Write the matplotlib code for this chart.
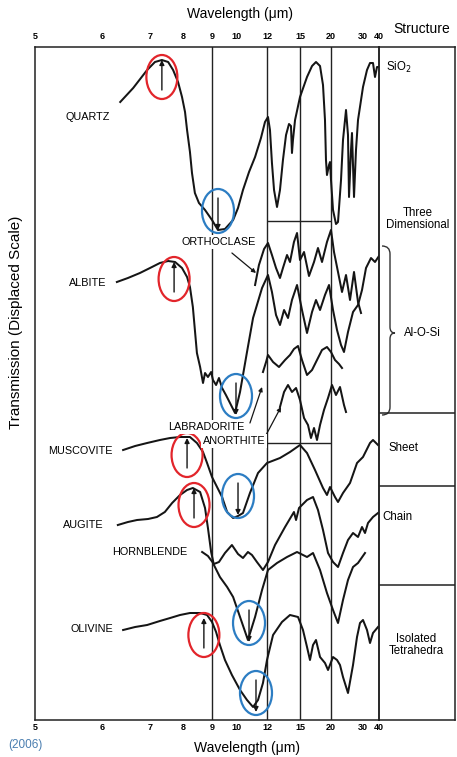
import numpy as np
import matplotlib
matplotlib.use('Agg')
import matplotlib.pyplot as plt
from matplotlib.patches import Ellipse, PathPatch
from matplotlib.path import Path
from matplotlib.transforms import ScaledTranslation

plt.rcParams['font.family'] = ['Liberation Sans', 'DejaVu Sans']

W, H = 457, 757

# wavelength axis (um); the printed axis is not uniform, so keep its tick spacing
tick_wl = [5, 6, 7, 8, 9, 10, 12, 15, 20, 30, 40]
tick_pos = [0, 67, 115, 148, 177, 201, 232, 265, 296, 328, 344]
minor_wl = [6, 7, 8, 10, 30]
grid_wl = [9, 12, 15, 20]

# spectra: wavelength (um) and displaced transmission (arbitrary units)
quartz_wl = [6.38, 6.65, 6.94, 7.15, 7.36, 7.55, 7.70, 7.85, 7.97, 8.07, 8.14, 8.24, 8.31, 8.41, 8.55, 8.76,
             9.0, 9.25, 9.54, 9.88, 10.13, 10.45, 10.84, 11.23, 11.61, 11.87, 12.09, 12.27, 12.45, 12.64,
             12.91, 13.18, 13.45, 13.73, 14.0, 14.18, 14.27, 14.36, 14.55, 15.0, 16.13, 16.94, 17.58, 18.23,
             18.71, 19.03, 19.19, 19.35, 19.68, 19.84, 20.0, 20.63, 21.56, 22.19, 23.13, 23.75, 24.69, 25.31,
             25.63, 26.25, 26.56, 27.19, 27.81, 28.44, 30.0, 32.5, 34.38, 36.25, 37.5, 38.75, 40.0]
quartz_t = [618, 632, 650, 658, 660, 658, 650, 638, 623, 608, 590, 568, 547, 527, 517, 510,
            500, 490, 491, 500, 512, 530, 548, 563, 582, 598, 603, 590, 557, 530,
            513, 530, 560, 585, 596, 594, 567, 580, 600, 623, 643, 654, 658, 654,
            635, 600, 560, 545, 555, 558, 540, 510, 496, 498, 540, 580, 610, 585,
            523, 570, 587, 523, 570, 600, 633, 650, 657, 657, 643, 653, 653]

orthoclase_wl = [11.23, 11.48, 11.81, 12.09, 12.45, 12.82, 13.18, 13.45, 13.82, 14.09, 14.45, 14.73, 15.0,
                 15.65, 16.45, 17.26, 17.9, 18.55, 19.35, 20.0, 20.94, 22.19, 23.44, 24.69, 25.94, 27.19,
                 28.44, 29.38]
orthoclase_t = [435, 455, 471, 477, 465, 452, 442, 452, 465, 458, 478, 487, 460,
                468, 444, 458, 472, 458, 478, 490, 468, 448, 428, 445, 420, 448,
                418, 407]

albite_wl = [6.31, 6.54, 6.79, 7.0, 7.30, 7.55, 7.76, 7.97, 8.14, 8.24, 8.34, 8.41, 8.48, 8.59, 8.69, 8.76,
             8.86, 8.97, 9.04, 9.17, 9.29, 9.42, 9.58, 9.75, 9.96, 10.26, 10.71, 11.10, 11.68, 12.09, 12.45,
             12.82, 13.18, 13.55, 13.91, 14.27, 14.73, 15.32, 16.13, 16.94, 17.58, 18.23, 19.03, 19.68,
             20.63, 21.88, 23.13, 24.06, 25.31, 26.88, 28.44, 29.69, 31.88, 35.0, 37.5, 40.0]
albite_t = [438, 442, 447, 452, 457, 459, 458, 452, 443, 433, 413, 390, 367, 353, 337, 347,
            343, 348, 340, 335, 342, 332, 325, 317, 307, 328, 368, 402, 432, 445, 428,
            405, 395, 410, 402, 420, 435, 410, 387, 408, 420, 410, 425, 435,
            410, 390, 375, 368, 388, 408, 415, 430, 452, 462, 458, 464]

labradorite_wl = [11.74, 11.94, 12.09, 12.55, 13.09, 13.64, 14.09, 14.45, 14.82, 15.32, 16.13, 16.94, 17.74,
                  18.55, 19.35, 20.0, 21.25, 22.5, 23.44]
labradorite_t = [348, 358, 365, 358, 353, 360, 365, 371, 374, 360, 345, 350, 360,
                 370, 373, 368, 360, 356, 352]

anorthite_wl = [13.18, 13.55, 13.91, 14.27, 14.64, 15.0, 15.65, 16.29, 16.77, 17.26, 17.74, 18.23, 18.87,
                19.52, 20.31, 21.56, 22.81, 24.06, 24.69]
anorthite_t = [313, 328, 335, 328, 332, 320, 302, 295, 282, 292, 280, 295, 310,
               322, 335, 325, 333, 315, 308]

muscovite_wl = [6.44, 6.69, 6.94, 7.30, 7.61, 7.91, 8.24, 8.48, 8.69, 8.83, 9.0, 9.21, 9.42, 9.63, 9.88,
                10.13, 10.45, 10.90, 11.42, 12.0, 13.18, 14.09, 15.0, 16.13, 17.42, 18.71, 19.35, 19.84,
                21.25, 22.19, 23.75, 25.94, 28.13, 30.0, 34.38, 36.25, 39.38]
muscovite_t = [270, 274, 277, 280, 282, 283, 283, 277, 268, 257, 243, 233, 223, 208, 202,
               204, 207, 227, 247, 257, 262, 268, 275, 267, 250, 232, 225, 233,
               223, 218, 227, 237, 257, 263, 277, 280, 275]

augite_wl = [6.33, 6.54, 6.73, 6.96, 7.21, 7.45, 7.67, 7.91, 8.14, 8.34, 8.59, 8.76, 8.86, 8.97, 9.08,
             9.33, 9.63, 9.88, 10.26, 10.77, 11.23, 11.68, 12.09, 12.91, 13.82, 14.73, 16.13, 17.10,
             18.23, 19.35, 20.63, 22.19, 23.75, 25.31, 26.88, 28.44, 31.25]
augite_t = [195, 198, 200, 201, 203, 208, 217, 225, 230, 232, 228, 212, 192, 168, 155,
            143, 133, 123, 103, 80, 103, 130, 150, 157, 163, 168, 163, 167,
            150, 127, 110, 97, 120, 140, 153, 157, 167]

hornblende_wl = [8.66, 8.86, 9.08, 9.29, 9.54, 9.83, 10.13, 10.45, 10.77, 11.03, 11.35, 11.74, 12.09,
                 12.73, 13.64, 14.45, 14.64, 14.91, 16.13, 17.10, 17.9, 18.71, 19.52, 20.63, 22.19,
                 23.75, 25.31, 26.88, 28.44, 29.69, 31.25, 33.13, 36.25, 39.38]
hornblende_t = [168, 164, 156, 158, 167, 175, 166, 162, 168, 165, 158, 150, 158,
                175, 193, 208, 200, 212, 220, 223, 210, 190, 167, 158, 153,
                167, 180, 187, 183, 193, 187, 197, 203, 207]

olivine_wl = [6.44, 6.69, 6.94, 7.30, 7.61, 7.91, 8.24, 8.59, 8.83, 9.0, 9.17, 9.33, 9.54, 9.83, 10.26,
              10.71, 11.10, 11.42, 11.74, 12.0, 12.55, 13.36, 14.09, 14.82, 15.48, 16.13, 16.61, 17.10,
              17.58, 18.23, 19.03, 19.52, 20.63, 21.88, 22.81, 23.75, 25.31, 26.88, 28.13, 29.06, 30.0,
              32.5, 34.38, 36.25, 39.38]
olivine_t = [90, 93, 95, 99, 102, 105, 107, 107, 105, 98, 88, 75, 60, 45, 30,
             20, 13, 20, 37, 60, 85, 98, 105, 103, 90, 73, 60, 75,
             80, 63, 57, 50, 63, 60, 55, 43, 27, 55, 83, 97, 100,
             90, 77, 87, 93]

spectra = [
    (quartz_wl, quartz_t), (orthoclase_wl, orthoclase_t), (albite_wl, albite_t),
    (labradorite_wl, labradorite_t), (anorthite_wl, anorthite_t), (muscovite_wl, muscovite_t),
    (augite_wl, augite_t), (hornblende_wl, hornblende_t), (olivine_wl, olivine_t),
]

# marked transmission maxima (red) and minima (blue): quartz, albite, muscovite, augite, olivine
peak_wl = [7.36, 7.73, 8.14, 8.38, 8.72]
peak_t = [660, 458, 282, 232, 102]
dip_wl = [9.25, 10.0, 10.13, 10.84, 11.29]
dip_t = [490, 305, 205, 78, 8]

# structure groups on the right (transmission level of the divider lines)
group_lines = [307, 234, 135]


def fwd(x):
    return np.interp(x, tick_wl, tick_pos)


def inv(x):
    return np.interp(x, tick_pos, tick_wl)


def px(x, y):
    return x / W, 1 - y / H


fig = plt.figure(figsize=(W / 100, H / 100), dpi=100)
ax = fig.add_axes([35 / W, 37 / H, 344 / W, 673 / H])
ax.set_xscale('function', functions=(fwd, inv))
ax.set_xlim(5, 40)
ax.set_ylim(0, 673)
for s in ax.spines.values():
    s.set_linewidth(1.1)
    s.set_color('#222222')

ax.set_xticks(tick_wl)
ax.set_xticklabels([str(v) for v in tick_wl])
ax.set_xticks(minor_wl, minor=True)
ax.tick_params(axis='x', which='major', length=0, pad=2.5, labelsize=6.5)
ax.tick_params(axis='x', which='minor', length=6, width=1, direction='in', top=True, bottom=True, color='#222222')
for lbl in ax.get_xticklabels():
    lbl.set_fontweight('bold')
ax.set_yticks([])

top = ax.twiny()
top.set_xscale('function', functions=(fwd, inv))
top.set_xlim(5, 40)
top.set_xticks(tick_wl)
top.set_xticklabels([str(v) for v in tick_wl], fontweight='bold')
top.set_xticks([], minor=True)
top.tick_params(axis='x', which='major', length=0, pad=4.5, labelsize=6.5)
for s in top.spines.values():
    s.set_visible(False)

for w in grid_wl:
    ax.axvline(w, color='#222222', lw=1.0, zorder=1)
ax.hlines([499, 277], 12, 20, color='#222222', lw=1.0, zorder=1)

for wl, t in spectra:
    ax.plot(wl, t, color='#151515', lw=1.45, zorder=3, solid_joinstyle='round')

# circled features with arrows
for wl, t in zip(peak_wl, peak_t):
    tr = fig.dpi_scale_trans + ScaledTranslation(wl, t - 17, ax.transData)
    ax.add_patch(Ellipse((0, 0), 0.31, 0.44, transform=tr, fill=False, ec='#e2252b', lw=1.6, zorder=5))
    ax.annotate('', xy=(wl, t), xytext=(wl, t - 30),
                arrowprops=dict(arrowstyle='-|>', color='#151515', lw=1.0, mutation_scale=7,
                                shrinkA=0, shrinkB=0), zorder=4)
for wl, t in zip(dip_wl, dip_t):
    tr = fig.dpi_scale_trans + ScaledTranslation(wl, t + 19, ax.transData)
    ax.add_patch(Ellipse((0, 0), 0.32, 0.44, transform=tr, fill=False, ec='#2c7dc3', lw=1.6, zorder=5))
    ax.annotate('', xy=(wl, t), xytext=(wl, t + 32),
                arrowprops=dict(arrowstyle='-|>', color='#151515', lw=1.0, mutation_scale=7,
                                shrinkA=0, shrinkB=0), zorder=4)

# leader lines from the feldspar names
leaders = [((9.83, 467), (11.29, 447)), ((10.90, 297), (11.68, 333)), ((11.87, 283), (13.27, 313))]
for (x0, y0), (x1, y1) in leaders:
    ax.annotate('', xy=(x1, y1), xytext=(x0, y0),
                arrowprops=dict(arrowstyle='-|>', color='#151515', lw=0.9, mutation_scale=6,
                                shrinkA=0, shrinkB=0), zorder=4)

name_fs = 7.8
plain = [('QUARTZ', 88, 117), ('ALBITE', 88, 283), ('MUSCOVITE', 80, 451), ('AUGITE', 83, 525),
         ('HORNBLENDE', 150, 552), ('OLIVINE', 92, 629)]
for name, x, y in plain:
    fig.text(*px(x, y), name, ha='center', va='center', fontsize=name_fs, zorder=10)
boxed = [('ORTHOCLASE', 219, 242), ('LABRADORITE', 206, 427), ('ANORTHITE', 234, 441)]
for name, x, y in boxed:
    fig.text(*px(x, y), name, ha='center', va='center', fontsize=name_fs, zorder=10,
             bbox=dict(facecolor='white', edgecolor='none', pad=1.2))

# structure column
sax = fig.add_axes([379 / W, 37 / H, 76 / W, 673 / H])
sax.set_xlim(379, 455)
sax.set_ylim(0, 673)
sax.set_xticks([])
sax.set_yticks([])
sax.patch.set_alpha(0)
for s in sax.spines.values():
    s.set_linewidth(1.1)
    s.set_color('#222222')
sax.hlines(group_lines, 379, 455, color='#222222', lw=1.1)

verts = [(382, 474), (390, 474), (390, 466), (390, 393), (390, 387), (395, 387),
         (390, 387), (390, 381), (390, 313), (390, 305), (382, 305)]
codes = [Path.MOVETO, Path.CURVE3, Path.CURVE3, Path.LINETO, Path.CURVE3, Path.CURVE3,
         Path.CURVE3, Path.CURVE3, Path.LINETO, Path.CURVE3, Path.CURVE3]
sax.add_patch(PathPatch(Path(verts, codes), fill=False, lw=1.0, ec='#333333'))

sfs = 8.3
sax.text(386, 653, 'SiO$_2$', ha='left', va='center', fontsize=sfs)
sax.text(418, 501, 'Three\nDimensional', ha='center', va='center', fontsize=sfs, linespacing=1.0,
         bbox=dict(facecolor='white', edgecolor='none', pad=1.5))
sax.text(404, 387, 'Al-O-Si', ha='left', va='center', fontsize=sfs)
sax.text(388, 272, 'Sheet', ha='left', va='center', fontsize=sfs)
sax.text(382, 203, 'Chain', ha='left', va='center', fontsize=sfs,
         bbox=dict(facecolor='white', edgecolor='none', pad=1.0))
sax.text(416, 75, 'Isolated\nTetrahedra', ha='center', va='center', fontsize=sfs, linespacing=1.0)

fig.text(*px(240, 14), 'Wavelength (μm)', ha='center', va='center', fontsize=10)
fig.text(*px(247, 748), 'Wavelength (μm)', ha='center', va='center', fontsize=10)
fig.text(*px(422, 29), 'Structure', ha='center', va='center', fontsize=10)
fig.text(*px(16, 322), 'Transmission (Displaced Scale)', ha='center', va='center', rotation=90, fontsize=11)
fig.text(*px(8, 745), '(2006)', ha='left', va='center', fontsize=8.5, color='#4a7eb0')

fig.savefig('out.png', dpi=100)
